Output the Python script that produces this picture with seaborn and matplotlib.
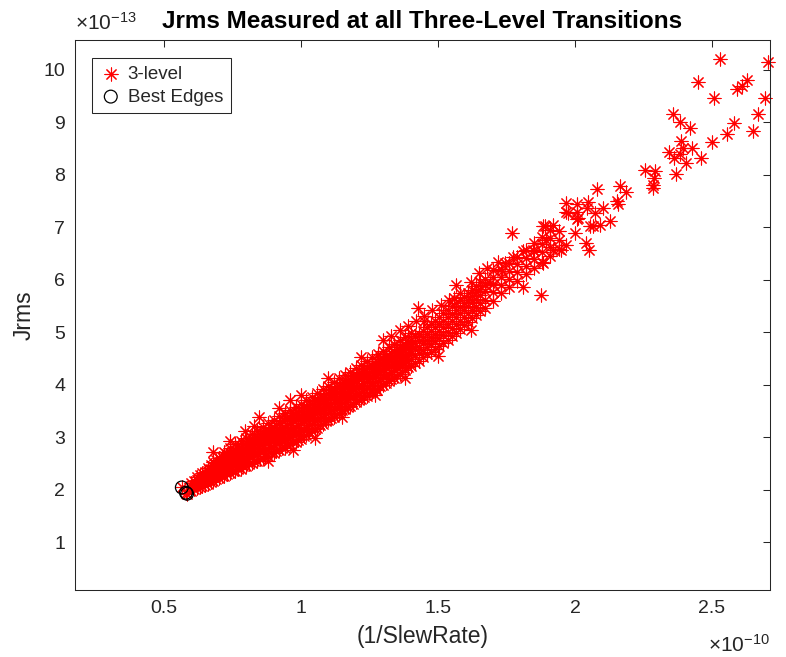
import pandas as pd
import seaborn as sns
import matplotlib.pyplot as plt

# values, x in units of 1e-10, y in units of 1e-13
# dense band: one x per column, several Jrms values per column
band_slew = [0.60, 0.62, 0.64, 0.66, 0.68, 0.70, 0.72, 0.74, 0.76, 0.78,
             0.80, 0.82, 0.84, 0.86, 0.88, 0.90, 0.92, 0.94, 0.96, 0.98,
             1.00, 1.02, 1.04, 1.06, 1.08, 1.10, 1.12, 1.14, 1.16, 1.18,
             1.20, 1.22, 1.24, 1.26, 1.28, 1.30, 1.32, 1.34, 1.36, 1.38,
             1.40, 1.43, 1.46, 1.49, 1.52, 1.55, 1.58, 1.61, 1.64, 1.67,
             1.70, 1.73, 1.76, 1.79, 1.82, 1.85, 1.88, 1.91, 1.94]
band_jrms = [
    [1.98, 2.06, 2.12],
    [2.02, 2.10, 2.19, 2.24],
    [2.06, 2.15, 2.22, 2.31],
    [2.10, 2.20, 2.28, 2.36, 2.42],
    [2.16, 2.27, 2.35, 2.44, 2.52],
    [2.22, 2.33, 2.41, 2.50, 2.60],
    [2.26, 2.37, 2.47, 2.55, 2.63, 2.71],
    [2.31, 2.43, 2.52, 2.61, 2.70, 2.79],
    [2.36, 2.48, 2.58, 2.66, 2.75, 2.86],
    [2.40, 2.53, 2.63, 2.72, 2.81, 2.93],
    [2.45, 2.58, 2.69, 2.78, 2.88, 2.99],
    [2.50, 2.64, 2.74, 2.84, 2.95, 3.06],
    [2.55, 2.68, 2.80, 2.90, 3.00, 3.12],
    [2.60, 2.74, 2.86, 2.96, 3.07, 3.19],
    [2.64, 2.78, 2.91, 3.02, 3.13, 3.26],
    [2.70, 2.84, 2.97, 3.08, 3.19, 3.33],
    [2.75, 2.89, 3.02, 3.14, 3.26, 3.40],
    [2.80, 2.95, 3.08, 3.20, 3.32, 3.46],
    [2.86, 3.00, 3.14, 3.26, 3.38, 3.52],
    [2.91, 3.06, 3.20, 3.32, 3.44, 3.58],
    [2.97, 3.12, 3.26, 3.38, 3.50, 3.64],
    [3.04, 3.18, 3.32, 3.44, 3.57, 3.70],
    [3.11, 3.25, 3.39, 3.51, 3.63, 3.77],
    [3.18, 3.32, 3.46, 3.58, 3.70, 3.84],
    [3.25, 3.39, 3.52, 3.65, 3.77, 3.91],
    [3.32, 3.46, 3.60, 3.72, 3.84, 3.98],
    [3.39, 3.53, 3.66, 3.79, 3.91, 4.05],
    [3.46, 3.60, 3.73, 3.86, 3.98, 4.12],
    [3.53, 3.67, 3.80, 3.93, 4.05, 4.19],
    [3.60, 3.74, 3.87, 3.99, 4.11, 4.25],
    [3.66, 3.80, 3.94, 4.06, 4.18, 4.32],
    [3.72, 3.86, 4.00, 4.12, 4.24, 4.38],
    [3.79, 3.93, 4.07, 4.19, 4.31, 4.45],
    [3.86, 4.00, 4.14, 4.26, 4.38, 4.52],
    [4.06, 4.20, 4.32, 4.44, 4.58],
    [4.00, 4.14, 4.27, 4.39, 4.51, 4.65],
    [4.06, 4.20, 4.33, 4.45, 4.57, 4.71],
    [4.13, 4.27, 4.40, 4.52, 4.64, 4.78],
    [4.20, 4.34, 4.47, 4.59, 4.71, 4.85],
    [4.28, 4.41, 4.54, 4.66, 4.78, 4.91],
    [4.36, 4.49, 4.61, 4.73, 4.85, 4.98],
    [4.45, 4.60, 4.72, 4.84, 4.96],
    [4.58, 4.72, 4.86, 4.97, 5.10],
    [4.68, 4.83, 4.96, 5.09, 5.22],
    [4.80, 4.95, 5.10, 5.22, 5.36],
    [4.92, 5.08, 5.22, 5.35, 5.50],
    [5.06, 5.22, 5.36, 5.48, 5.62],
    [5.20, 5.36, 5.50, 5.62, 5.74],
    [5.33, 5.48, 5.64, 5.76, 5.88],
    [5.47, 5.62, 5.78, 5.90, 6.02],
    [5.60, 5.76, 5.92, 6.05, 6.18],
    [5.74, 5.90, 6.06, 6.20],
    [5.86, 6.02, 6.17, 6.32],
    [5.98, 6.14, 6.30, 6.44],
    [6.10, 6.27, 6.42, 6.56],
    [6.22, 6.40, 6.55, 6.70],
    [6.34, 6.52, 6.68, 6.82],
    [6.46, 6.63, 6.80, 6.94],
    [6.58, 6.75, 6.92],
]

# in-between columns where the band is packed solid
fill_slew = [0.61, 0.63, 0.65, 0.67, 0.69, 0.71, 0.73, 0.75, 0.77, 0.79,
             0.81, 0.83, 0.85, 0.87, 0.89, 0.91, 0.93, 0.95, 0.97, 0.99,
             1.01, 1.03, 1.05, 1.07, 1.09, 1.11, 1.13, 1.15, 1.17, 1.19,
             1.21, 1.23, 1.25, 1.27, 1.29, 1.31, 1.33, 1.35, 1.37, 1.39,
             1.415, 1.445, 1.475, 1.505, 1.535, 1.565, 1.595, 1.625, 1.655]
fill_jrms = [
    [2.01, 2.09, 2.17],
    [2.05, 2.13, 2.21, 2.28],
    [2.09, 2.18, 2.26, 2.34],
    [2.14, 2.24, 2.32, 2.40, 2.47],
    [2.20, 2.30, 2.39, 2.47, 2.56],
    [2.25, 2.36, 2.45, 2.53, 2.62],
    [2.30, 2.41, 2.50, 2.59, 2.67],
    [2.35, 2.46, 2.55, 2.64, 2.73],
    [2.40, 2.51, 2.61, 2.70, 2.79],
    [2.44, 2.57, 2.67, 2.76, 2.86],
    [2.49, 2.62, 2.72, 2.82, 2.93],
    [2.54, 2.67, 2.78, 2.88, 2.99],
    [2.59, 2.72, 2.84, 2.94, 3.05],
    [2.64, 2.78, 2.90, 3.00, 3.11],
    [2.69, 2.82, 2.95, 3.06, 3.18],
    [2.74, 2.88, 3.00, 3.12, 3.24],
    [2.79, 2.93, 3.06, 3.18, 3.30],
    [2.84, 2.98, 3.12, 3.24, 3.36],
    [2.90, 3.04, 3.18, 3.30, 3.42],
    [2.95, 3.10, 3.24, 3.36, 3.48],
    [3.02, 3.16, 3.30, 3.42, 3.55],
    [3.09, 3.23, 3.37, 3.49, 3.61],
    [3.16, 3.30, 3.44, 3.56, 3.68],
    [3.23, 3.37, 3.50, 3.63, 3.75],
    [3.30, 3.44, 3.57, 3.70, 3.82],
    [3.37, 3.51, 3.64, 3.77, 3.89],
    [3.44, 3.58, 3.71, 3.84, 3.96],
    [3.51, 3.65, 3.78, 3.91, 4.03],
    [3.58, 3.72, 3.85, 3.97, 4.09],
    [3.64, 3.78, 3.92, 4.04, 4.16],
    [3.70, 3.84, 3.98, 4.10, 4.22],
    [3.77, 3.91, 4.04, 4.16, 4.29],
    [3.84, 3.98, 4.11, 4.23, 4.36],
    [3.92, 4.05, 4.18, 4.30, 4.42],
    [3.98, 4.12, 4.25, 4.37, 4.49],
    [4.04, 4.18, 4.31, 4.43, 4.55],
    [4.10, 4.24, 4.37, 4.49, 4.61],
    [4.17, 4.31, 4.44, 4.56, 4.68],
    [4.25, 4.38, 4.51, 4.63, 4.75],
    [4.33, 4.46, 4.58, 4.70, 4.82],
    [4.42, 4.56, 4.68, 4.80, 4.92],
    [4.52, 4.66, 4.79, 4.91, 5.03],
    [4.63, 4.77, 4.90, 5.03, 5.16],
    [4.74, 4.89, 5.03, 5.16, 5.29],
    [4.86, 5.01, 5.16, 5.28, 5.43],
    [4.99, 5.15, 5.29, 5.42, 5.56],
    [5.13, 5.29, 5.43, 5.55, 5.68],
    [5.27, 5.42, 5.57, 5.69, 5.81],
    [5.40, 5.55, 5.71, 5.83, 5.95],
]

# ragged points along the band edges
edge_slew = [0.74, 0.83, 0.92, 1.00, 1.05, 1.10, 1.15, 1.22, 1.27, 1.33,
             1.38, 1.45, 1.50, 1.56, 1.62, 0.88, 0.97,
             1.30, 1.36, 1.39, 1.42, 1.45, 1.48, 1.51, 1.54, 1.58, 1.62,
             1.68, 1.72]
edge_jrms = [2.92, 3.22, 3.55, 3.80, 2.98, 4.12, 3.38, 4.52, 3.80, 4.92,
             4.12, 5.22, 4.55, 5.66, 5.04, 2.55, 2.76,
             4.85, 5.05, 5.12, 5.22, 5.30, 5.42, 5.52, 5.62, 5.74, 5.95,
             6.22, 6.34]

# scattered points off the band and the sparse upper tail
tail_slew = [0.678, 0.796, 0.848, 0.960, 1.276, 1.428, 1.566, 1.651, 1.769, 1.876,
             1.690, 1.732, 1.745, 1.774, 1.810, 1.811, 1.847, 1.884, 1.896, 1.920,
             1.950, 1.969, 2.000, 2.042, 2.050, 2.066, 1.883, 2.011, 1.969,
             2.529, 2.703, 2.449, 2.507, 2.592, 2.608, 2.627, 2.693, 2.670, 2.581,
             2.556, 2.651, 2.502, 2.359, 2.384, 2.420, 2.387, 2.393, 2.427, 2.344,
             2.362, 2.383, 2.404, 2.461, 2.368, 2.255, 2.292, 2.288, 2.286, 2.284,
             2.082, 2.164, 2.186, 2.154, 2.158, 1.967, 2.006, 2.049, 2.045, 1.975,
             2.009, 2.073, 2.103, 2.008, 2.128, 1.891, 1.919, 2.055, 2.091]
tail_jrms = [2.72, 3.12, 3.39, 3.71, 3.90, 5.46, 5.89, 6.13, 6.89, 5.70,
             5.94, 6.16, 6.32, 6.44, 6.54, 5.87, 6.57, 6.32, 6.76, 6.57,
             6.57, 6.67, 6.90, 6.70, 6.57, 7.02, 7.02, 7.18, 7.30,
             10.21, 10.15, 9.77, 9.47, 9.64, 9.69, 9.80, 9.47, 9.15, 8.99,
             8.77, 8.83, 8.63, 9.16, 9.01, 8.89, 8.64, 8.51, 8.52, 8.44,
             8.33, 8.40, 8.23, 8.33, 8.02, 8.10, 8.07, 7.94, 7.81, 7.75,
             7.73, 7.79, 7.68, 7.51, 7.45, 7.46, 7.45, 7.48, 7.37, 7.28,
             7.30, 7.27, 7.37, 7.16, 7.11, 7.03, 7.05, 7.03, 7.05]

best_slew = [0.565, 0.580, 0.584]
best_jrms = [2.04, 1.94, 1.92]

rows = []
for xs, yss in [(band_slew, band_jrms), (fill_slew, fill_jrms)]:
    for x, ys in zip(xs, yss):
        for y in ys:
            rows.append((x, y))
rows += list(zip(edge_slew, edge_jrms))
rows += list(zip(tail_slew, tail_jrms))
rows += list(zip(best_slew, best_jrms))
level3 = pd.DataFrame(rows, columns=['slew', 'jrms'])
best = pd.DataFrame({'slew': best_slew, 'jrms': best_jrms})

sns.set_theme(style='white')
plt.rcParams['font.family'] = ['Liberation Sans', 'DejaVu Sans']
plt.rcParams['mathtext.fontset'] = 'custom'
plt.rcParams['mathtext.rm'] = 'Liberation Sans'
dark = '#262626'

fig = plt.figure(figsize=(7.86, 6.57), dpi=100)
ax = fig.add_axes([75 / 786, 67 / 657, 695 / 786, 550 / 657])

sns.scatterplot(data=level3, x='slew', y='jrms', ax=ax, marker=(8, 2, 0), s=88,
                color='red', linewidth=0.8, label='3-level', clip_on=False)
sns.scatterplot(data=best, x='slew', y='jrms', ax=ax, marker='o', s=85,
                facecolor='none', edgecolor='black', linewidth=0.9,
                label='Best Edges', clip_on=False)

ax.set_xlim(0.175, 2.712)
ax.set_ylim(0.085, 10.57)
ax.set_xticks([0.5, 1, 1.5, 2, 2.5])
ax.set_xticklabels(['0.5', '1', '1.5', '2', '2.5'])
ax.set_yticks(range(1, 11))
ax.tick_params(direction='in', length=5, width=0.75, colors=dark, labelsize=14,
               pad=7, top=True, right=True)
for spine in ax.spines.values():
    spine.set_color(dark)
    spine.set_linewidth(0.75)

ax.set_title('Jrms Measured at all Three-Level Transitions', fontsize=17.5,
             fontweight='bold', pad=9, color='black')
ax.set_xlabel('(1/SlewRate)', fontsize=16.5, color=dark, labelpad=6)
ax.set_ylabel('Jrms', fontsize=16.5, color=dark, labelpad=6)

ax.text(0, 1.012, r'$\mathregular{\times10^{-13}}$', transform=ax.transAxes,
        ha='left', va='bottom', fontsize=15, color=dark)
ax.text(1, -0.112, r'$\mathregular{\times10^{-10}}$', transform=ax.transAxes,
        ha='right', va='baseline', fontsize=15, color=dark)

leg = ax.legend(loc='upper left', bbox_to_anchor=(0.0245, 0.967), borderaxespad=0,
                fancybox=False, edgecolor=dark, framealpha=1, fontsize=13.5,
                handletextpad=0.3, handlelength=1.2, borderpad=0.4,
                labelspacing=0.3)
leg.get_frame().set_linewidth(0.75)

fig.savefig('out.png', dpi=100)
